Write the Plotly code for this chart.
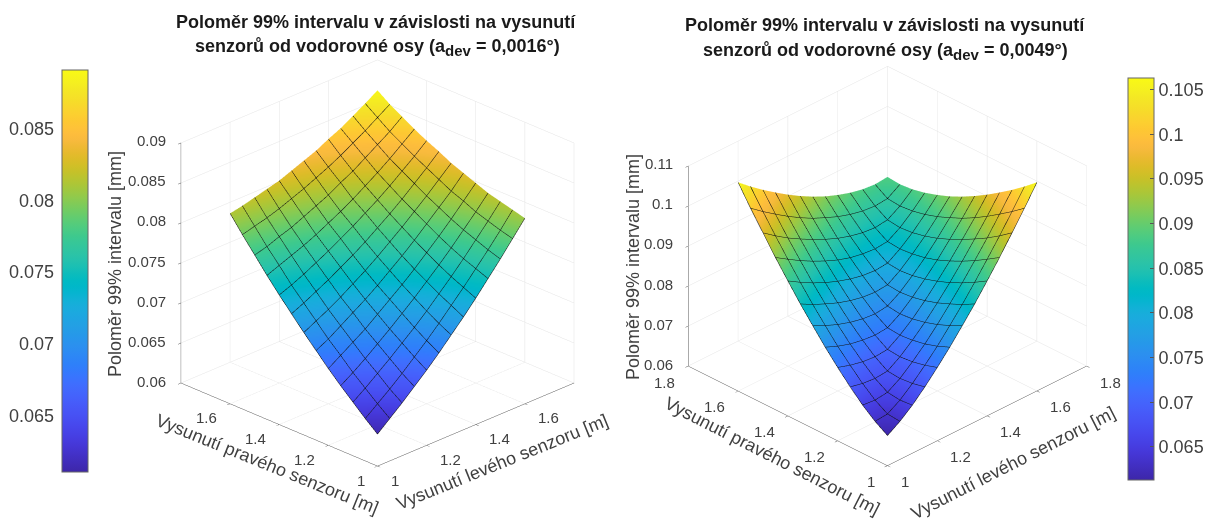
import plotly.graph_objects as go

# ---- data ----
senzor_levy = [1.1, 1.15, 1.2, 1.25, 1.3, 1.35, 1.4, 1.45, 1.5, 1.55, 1.6, 1.65, 1.7]
senzor_pravy = [1.1, 1.15, 1.2, 1.25, 1.3, 1.35, 1.4, 1.45, 1.5, 1.55, 1.6, 1.65, 1.7]

polomer_a = [
    [.0614, .0627, .0640, .0654, .0668, .0683, .0699, .0715, .0732, .0750, .0768, .0787, .0806],
    [.0627, .0639, .0651, .0664, .0678, .0692, .0707, .0723, .0739, .0756, .0773, .0791, .0810],
    [.0641, .0652, .0664, .0676, .0689, .0702, .0716, .0731, .0746, .0762, .0779, .0796, .0814],
    [.0655, .0665, .0676, .0688, .0700, .0713, .0726, .0740, .0754, .0769, .0785, .0801, .0818],
    [.0670, .0680, .0690, .0700, .0712, .0724, .0736, .0749, .0763, .0777, .0792, .0808, .0824],
    [.0686, .0694, .0704, .0714, .0724, .0735, .0747, .0759, .0772, .0786, .0800, .0814, .0830],
    [.0702, .0710, .0718, .0727, .0737, .0747, .0758, .0770, .0782, .0795, .0808, .0822, .0836],
    [.0719, .0726, .0734, .0742, .0751, .0760, .0770, .0781, .0792, .0804, .0817, .0830, .0844],
    [.0736, .0742, .0749, .0757, .0765, .0774, .0783, .0793, .0803, .0814, .0826, .0838, .0851],
    [.0754, .0760, .0766, .0772, .0779, .0787, .0795, .0804, .0814, .0824, .0835, .0847, .0859],
    [.0773, .0777, .0783, .0788, .0795, .0802, .0809, .0818, .0826, .0836, .0846, .0856, .0868],
    [.0792, .0796, .0800, .0805, .0811, .0817, .0824, .0831, .0839, .0848, .0857, .0867, .0877],
    [.0812, .0815, .0819, .0823, .0827, .0833, .0839, .0845, .0853, .0860, .0869, .0878, .0888],
]

polomer_b = [
    [.0613, .0633, .0658, .0688, .0721, .0756, .0794, .0833, .0875, .0918, .0964, .1010, .1059],
    [.0633, .0636, .0655, .0681, .0711, .0743, .0779, .0816, .0856, .0898, .0941, .0986, .1033],
    [.0658, .0655, .0659, .0678, .0704, .0733, .0766, .0802, .0839, .0879, .0920, .0964, .1009],
    [.0688, .0681, .0678, .0681, .0701, .0727, .0756, .0789, .0824, .0862, .0902, .0943, .0987],
    [.0721, .0711, .0704, .0701, .0704, .0724, .0749, .0779, .0812, .0847, .0885, .0924, .0966],
    [.0756, .0743, .0733, .0727, .0724, .0727, .0746, .0772, .0802, .0834, .0870, .0907, .0947],
    [.0794, .0779, .0766, .0756, .0749, .0746, .0750, .0769, .0795, .0824, .0857, .0893, .0930],
    [.0833, .0816, .0802, .0789, .0779, .0772, .0769, .0772, .0792, .0818, .0847, .0880, .0915],
    [.0875, .0856, .0839, .0824, .0812, .0802, .0795, .0792, .0795, .0815, .0840, .0870, .0903],
    [.0918, .0898, .0879, .0862, .0847, .0834, .0824, .0818, .0815, .0818, .0837, .0863, .0893],
    [.0964, .0941, .0920, .0902, .0885, .0870, .0857, .0847, .0840, .0837, .0841, .0860, .0886],
    [.1010, .0986, .0964, .0943, .0924, .0907, .0893, .0880, .0870, .0863, .0860, .0863, .0883],
    [.1059, .1033, .1009, .0987, .0966, .0947, .0930, .0915, .0903, .0893, .0886, .0883, .0886],
]

xy_ticks_a = [1, 1.2, 1.4, 1.6]
xy_ticks_b = [1, 1.2, 1.4, 1.6, 1.8]
z_ticks_a = [0.06, 0.065, 0.07, 0.075, 0.08, 0.085, 0.09]
z_text_a = ["0.06", "0.065", "0.07", "0.075", "0.08", "0.085", "0.09"]
z_ticks_b = [0.06, 0.07, 0.08, 0.09, 0.1, 0.11]
z_text_b = ["0.06", "0.07", "0.08", "0.09", "0.1", "0.11"]
cb_ticks_a = [0.065, 0.07, 0.075, 0.08, 0.085]
cb_text_a = ["0.065", "0.07", "0.075", "0.08", "0.085"]
cb_ticks_b = [0.065, 0.07, 0.075, 0.08, 0.085, 0.09, 0.095, 0.1, 0.105]
cb_text_b = ["0.065", "0.07", "0.075", "0.08", "0.085", "0.09", "0.095", "0.1", "0.105"]

SUB = '<sub><span style="font-size:15px">dev</span></sub>'
title_a = ["Poloměr 99% intervalu v závislosti na vysunutí",
           f"senzorů od vodorovné osy (a{SUB} = 0,0016°)"]
title_b = ["Poloměr 99% intervalu v závislosti na vysunutí",
           f"senzorů od vodorovné osy (a{SUB} = 0,0049°)"]
xlabel = "Vysunutí levého senzoru [m]"
ylabel = "Vysunutí pravého senzoru [m]"
zlabel = "Poloměr 99% intervalu [mm]"

parula_rgb = [
    (.2422,.1504,.6603),(.2504,.1650,.7076),(.2578,.1818,.7511),(.2647,.1978,.7952),
    (.2706,.2147,.8364),(.2751,.2342,.8710),(.2783,.2559,.8991),(.2803,.2782,.9221),
    (.2813,.3006,.9414),(.2810,.3228,.9579),(.2795,.3447,.9717),(.2760,.3667,.9829),
    (.2699,.3892,.9906),(.2602,.4123,.9952),(.2440,.4358,.9988),(.2206,.4603,.9973),
    (.1963,.4847,.9892),(.1834,.5074,.9798),(.1786,.5289,.9682),(.1764,.5499,.9520),
    (.1687,.5703,.9359),(.1540,.5902,.9218),(.1460,.6091,.9079),(.1380,.6276,.8973),
    (.1248,.6459,.8883),(.1113,.6635,.8763),(.0952,.6798,.8598),(.0689,.6948,.8394),
    (.0297,.7082,.8163),(.0036,.7203,.7917),(.0067,.7312,.7660),(.0433,.7411,.7394),
    (.0964,.7500,.7120),(.1408,.7584,.6842),(.1717,.7670,.6554),(.1938,.7758,.6251),
    (.2161,.7843,.5923),(.2470,.7918,.5567),(.2906,.7973,.5188),(.3406,.8008,.4789),
    (.3909,.8029,.4354),(.4456,.8024,.3909),(.5044,.7993,.3480),(.5616,.7942,.3045),
    (.6174,.7876,.2612),(.6720,.7793,.2227),(.7242,.7698,.1910),(.7738,.7598,.1646),
    (.8203,.7498,.1535),(.8634,.7406,.1596),(.9035,.7330,.1774),(.9393,.7288,.2100),
    (.9728,.7298,.2394),(.9956,.7434,.2371),(.9970,.7659,.2199),(.9952,.7861,.1999),
    (.9892,.8136,.1885),(.9786,.8386,.1766),(.9676,.8639,.1643),(.9610,.8890,.1537),
    (.9597,.9135,.1423),(.9628,.9373,.1265),(.9691,.9606,.1064),(.9769,.9839,.0805),
]
parula = [[i / 63, f"rgb({int(r*255)},{int(g*255)},{int(b*255)})"] for i, (r, g, b) in enumerate(parula_rgb)]

W, H = 1212, 519
FONT = "Liberation Sans, Arial, sans-serif"
TXT = "#404040"
EDGE = "#101010"


def px(v):
    return v / W


def py(v):
    return 1 - v / H


def surface(z, scene, cmin, cmax, cb):
    grid = dict(show=True, start=1.1, end=1.7, size=0.05, color=EDGE, width=2, highlight=False)
    return go.Surface(
        x=senzor_levy, y=senzor_pravy, z=z, scene=scene, cmin=cmin, cmax=cmax,
        colorscale=parula, colorbar=cb, hoverinfo="skip",
        lighting=dict(ambient=1, diffuse=0, specular=0, fresnel=0, roughness=1),
        contours=dict(x=grid, y=grid, z=dict(show=False, highlight=False)),
    )


def axis(tickvals, rng):
    return dict(
        title=dict(text=""), range=rng, tickmode="array", tickvals=tickvals, showticklabels=False,
        gridcolor="#e4e4e4", gridwidth=1, showbackground=False, showline=True,
        linecolor="#555555", linewidth=1, ticks="outside", ticklen=4, tickcolor="#555555",
        zeroline=False, showspikes=False,
    )


def cbar(x, top, ticks, text, show_labels):
    return dict(
        x=px(x), xanchor="left", y=py(top), yanchor="top", thickness=26, thicknessmode="pixels",
        len=402, lenmode="pixels", xpad=0, ypad=0, outlinecolor="#666666", outlinewidth=1,
        tickmode="array", tickvals=ticks, ticktext=text, showticklabels=show_labels,
        ticks="inside" if show_labels else "", ticklen=4, tickcolor="#555555",
        tickfont=dict(family=FONT, size=18, color=TXT),
    )


def eye(elev_deg, r):
    from math import cos, sin, radians, sqrt
    e = radians(elev_deg)
    return dict(x=-r * cos(e) / sqrt(2), y=-r * cos(e) / sqrt(2), z=r * sin(e))


def tick_labels(xy_ticks, z_ticks, z_text, zmin, dy_floor):
    font = dict(family=FONT, size=15, color=TXT)
    out = []
    for v in xy_ticks:
        out.append(dict(x=v, y=1, z=zmin, text=str(v), showarrow=False, font=font,
                        xanchor="left", yanchor="middle", xshift=11, yshift=dy_floor))
        out.append(dict(x=1, y=v, z=zmin, text=str(v), showarrow=False, font=font,
                        xanchor="right", yanchor="middle", xshift=-11, yshift=dy_floor))
    for v, t in zip(z_ticks, z_text):
        out.append(dict(x=1, y=1.8, z=v, text=t, showarrow=False, font=font,
                        xanchor="right", yanchor="middle", xshift=-13, yshift=2))
    return out


CB_A = (0.0611, 0.0891)
CB_B = (0.0613, 0.1063)

fig = go.Figure([
    surface(polomer_a, "scene", *CB_A, cbar(62, 70, cb_ticks_a, cb_text_a, False)),
    surface(polomer_b, "scene2", *CB_B, cbar(1128, 78, cb_ticks_b, cb_text_b, True)),
])

fig.update_layout(
    width=W, height=H, margin=dict(l=0, r=0, t=0, b=0), paper_bgcolor="white",
    font=dict(family=FONT, color=TXT),
    scene=dict(
        domain=dict(x=[px(125), px(630)], y=[py(515), py(11)]),
        xaxis=axis(xy_ticks_a, [1, 1.8]),
        yaxis=axis(xy_ticks_a, [1, 1.8]),
        zaxis=axis(z_ticks_a, [0.06, 0.09]),
        aspectmode="manual", aspectratio=dict(x=1.103, y=1.103, z=1.051),
        camera=dict(eye=eye(25, 2.0), up=dict(x=0, y=0, z=1), center=dict(x=0, y=0, z=0),
                    projection=dict(type="orthographic")),
        annotations=tick_labels(xy_ticks_a, z_ticks_a, z_text_a, 0.06, -14),
    ),
    scene2=dict(
        domain=dict(x=[px(635), px(1140)], y=[py(518), py(14)]),
        xaxis=axis(xy_ticks_b, [1, 1.8]),
        yaxis=axis(xy_ticks_b, [1, 1.8]),
        zaxis=axis(z_ticks_b, [0.06, 0.11]),
        aspectmode="manual", aspectratio=dict(x=1.118, y=1.118, z=0.917),
        camera=dict(eye=eye(30, 2.0), up=dict(x=0, y=0, z=1), center=dict(x=0, y=0, z=0),
                    projection=dict(type="orthographic")),
        annotations=tick_labels(xy_ticks_b, z_ticks_b, z_text_b, 0.06, -16),
    ),
)

annotations = []
for text, cx, cy in [(title_a[0], 376, 22), (title_a[1], 377, 47), (title_b[0], 885, 25), (title_b[1], 885, 51)]:
    annotations.append(dict(text=f"<b>{text}</b>", x=px(cx), y=py(cy), xref="paper", yref="paper",
                            showarrow=False, xanchor="center", yanchor="middle",
                            font=dict(family=FONT, size=18, color="#1a1a1a")))

for text, cx, cy, ang in [
    (zlabel, 115, 264, -90), (ylabel, 267, 464, 22), (xlabel, 502, 462, -22),
    (zlabel, 633, 267, -90), (ylabel, 772, 456, 27), (xlabel, 1013, 463, -27),
]:
    annotations.append(dict(text=text, x=px(cx), y=py(cy), xref="paper", yref="paper", showarrow=False,
                            xanchor="center", yanchor="middle", textangle=ang,
                            font=dict(family=FONT, size=18, color=TXT)))

# left colour bar has its scale on the left side
shapes = []
for v, t in zip(cb_ticks_a, cb_text_a):
    y = 472 - (v - CB_A[0]) / (CB_A[1] - CB_A[0]) * 402
    annotations.append(dict(text=t, x=px(56), y=py(y), xref="paper", yref="paper", showarrow=False,
                            xanchor="right", yanchor="middle", font=dict(family=FONT, size=18, color=TXT)))
    shapes.append(dict(type="line", xref="paper", yref="paper", x0=px(62), x1=px(66), y0=py(y), y1=py(y),
                       line=dict(color="#555555", width=1)))

fig.update_layout(annotations=annotations, shapes=shapes)
fig.write_html("out.html", config=dict(displayModeBar=False), post_script="document.body.style.margin='0';")
